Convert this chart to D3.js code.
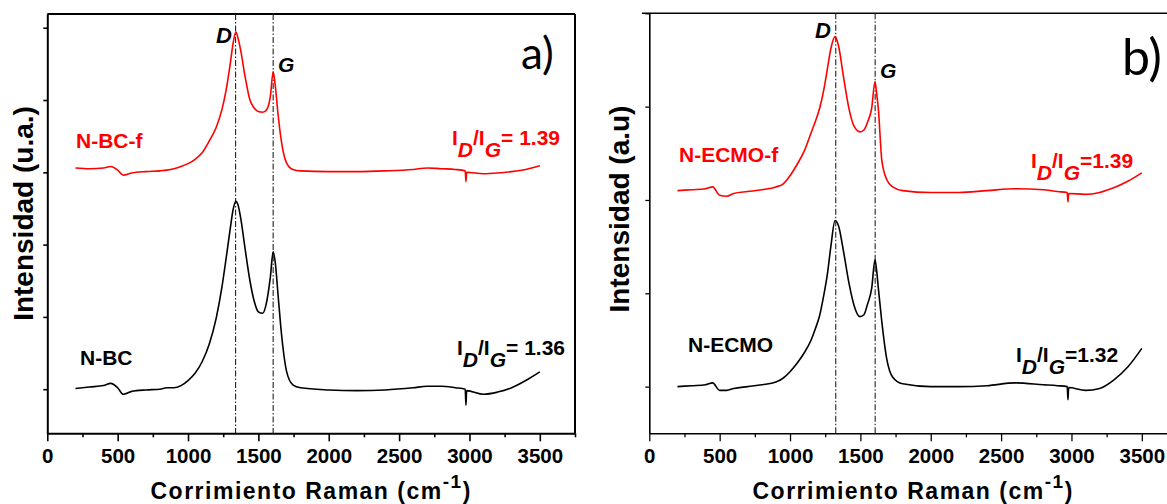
<!DOCTYPE html>
<html><head><meta charset="utf-8">
<script src="https://cdn.jsdelivr.net/npm/d3@7"></script>
<style>body{margin:0;background:#fff}svg{display:block}text{font-family:"Liberation Sans",Arial,sans-serif}</style>
</head><body>
<svg id="c" width="1167" height="504"></svg>
<script>
// ---------- data ----------
const xTickValues = [0, 500, 1000, 1500, 2000, 2500, 3000, 3500];
const xMinorValues = [250, 750, 1250, 1750, 2250, 2750, 3250, 3750];
const yTicksA = [0, 1, 2, 3, 4, 5];
const yTicksB = [0, 1, 2, 3, 4];

const waveA = [200,300,400,450,500,540,600,700,800,850,900,950,1000,1050,1100,1150,1200,1240,1270,1300,1320,1340,1355,1375,1405,1440,1470,1500,1530,1560,1585,1605,1620,1640,1665,1700,1745,1800,2000,2200,2400,2600,2700,2800,2900,2970,2975,2980,3100,3200,3300,3400,3500];
const nbcF = [3.06,3.05,3.06,3.08,3.03,2.96,2.99,3.01,3.02,3.03,3.05,3.08,3.12,3.18,3.27,3.43,3.62,3.86,4.13,4.50,4.78,4.94,4.86,4.68,4.33,4.00,3.89,3.84,3.83,3.87,4.05,4.39,4.20,3.80,3.41,3.13,3.04,3.02,3.01,3.01,3.02,3.04,3.06,3.05,3.04,3.02,2.87,3.00,2.98,2.99,3.01,3.04,3.09];
const nbc = [0.01,0.03,0.05,0.08,0.02,-0.07,-0.03,-0.01,0.00,0.02,0.02,0.05,0.12,0.22,0.38,0.62,0.98,1.40,1.80,2.22,2.48,2.60,2.55,2.36,1.95,1.50,1.22,1.07,1.05,1.22,1.55,1.90,1.75,1.30,0.75,0.25,0.06,0.02,-0.01,-0.02,-0.01,0.02,0.04,0.04,0.02,0.00,-0.22,-0.02,-0.07,-0.04,0.02,0.12,0.24];

const waveB = [200,300,400,450,500,550,600,700,800,900,950,1000,1050,1100,1150,1180,1210,1240,1265,1290,1320,1345,1380,1420,1455,1497,1525,1550,1580,1604,1615,1628,1652,1687,1730,1800,2000,2200,2400,2600,2800,2900,2970,2975,2980,3100,3200,3300,3400,3500];
const necmoF = [2.10,2.11,2.12,2.14,2.05,2.04,2.07,2.09,2.11,2.14,2.17,2.26,2.38,2.52,2.72,2.84,2.98,3.18,3.40,3.62,3.75,3.65,3.32,2.97,2.79,2.73,2.75,2.83,2.98,3.27,3.15,2.97,2.43,2.22,2.14,2.10,2.08,2.08,2.10,2.12,2.11,2.09,2.08,1.98,2.07,2.06,2.08,2.13,2.20,2.29];
const necmo = [0.00,0.01,0.02,0.04,-0.04,-0.04,-0.02,0.00,0.02,0.05,0.09,0.16,0.25,0.36,0.50,0.62,0.76,0.98,1.20,1.50,1.78,1.72,1.45,1.10,0.87,0.75,0.77,0.88,1.05,1.36,1.25,1.05,0.70,0.30,0.10,0.03,0.00,0.00,0.01,0.04,0.02,0.01,0.00,-0.14,-0.01,-0.04,-0.02,0.07,0.21,0.41];

const peakLinesA = [1338, 1605];
const peakLinesB = [1325, 1605];
const sampleNamesA = ["N-BC-f", "N-BC"];
const sampleNamesB = ["N-ECMO-f", "N-ECMO"];
const ratiosA = ["= 1.39", "= 1.36"];
const ratiosB = ["=1.39", "=1.32"];
const panelLetters = ["a)", "b)"];
const yTitles = ["Intensidad (u.a.)", "Intensidad (a.u)"];

// ---------- drawing ----------
const svg = d3.select("#c");

function drawPanel(o) {
  const g = svg.append("g");
  const x = d3.scaleLinear().domain([0, 3750]).range([o.x0, o.x1]);
  const y = d3.scaleLinear().domain(o.yDom).range([433.3, o.top]);
  const sw = o.sw;

  // box top/right
  g.append("line").attr("x1", o.topLineStart).attr("x2", Math.min(o.x1, 1167)).attr("y1", o.top).attr("y2", o.top)
    .attr("stroke", "#000").attr("stroke-width", sw);
  if (o.x1 < 1167) g.append("line").attr("x1", o.x1).attr("x2", o.x1).attr("y1", o.top).attr("y2", 433.3)
    .attr("stroke", "#000").attr("stroke-width", sw);

  // peak lines
  o.peaks.forEach(p => g.append("line").attr("x1", x(p)).attr("x2", x(p)).attr("y1", o.top).attr("y2", 433.3)
    .attr("stroke", "#222").attr("stroke-width", 1.1).attr("stroke-dasharray", "6,2,1.5,2"));

  // curves
  const line = d3.line().x(d => x(d[0])).y(d => y(d[1])).curve(d3.curveMonotoneX);
  g.append("path").datum(o.wave.map((w, i) => [w, o.s2[i]])).attr("d", line)
    .attr("fill", "none").attr("stroke", "#000").attr("stroke-width", 1.6);
  g.append("path").datum(o.wave.map((w, i) => [w, o.s1[i]])).attr("d", line)
    .attr("fill", "none").attr("stroke", "#ff0000").attr("stroke-width", 1.6);

  // x axis
  const xa = g.append("g").attr("transform", "translate(0,433.3)")
    .call(d3.axisBottom(x).tickValues(xTickValues).tickFormat(d3.format("d")).tickSize(8).tickPadding(7).tickSizeOuter(0));
  xa.select(".domain").attr("stroke-width", sw);
  xa.selectAll(".tick line").attr("stroke-width", sw * 0.8);
  xa.selectAll("text").attr("font-size", 20.5).attr("font-weight", "bold")
    .attr("font-family", '"Liberation Sans",Arial,sans-serif').attr("fill", "#000");
  const xm = g.append("g").attr("transform", "translate(0,433.3)")
    .call(d3.axisBottom(x).tickValues(xMinorValues).tickSize(4).tickFormat(""));
  xm.select(".domain").remove();
  xm.selectAll(".tick line").attr("stroke-width", sw * 0.8);

  // y axis
  const ya = g.append("g").attr("transform", `translate(${o.x0},0)`)
    .call(d3.axisLeft(y).tickValues(o.yTicks).tickSize(4).tickFormat("").tickSizeOuter(0));
  ya.select(".domain").attr("stroke-width", sw);
  ya.selectAll(".tick line").attr("stroke-width", sw * 0.8);

  // axis titles
  const xt = g.append("text").attr("x", (o.x0 + o.x1) / 2).attr("y", 499).attr("text-anchor", "middle")
    .attr("font-size", 23).attr("font-weight", "bold").attr("letter-spacing", 1.5);
  xt.append("tspan").text("Corrimiento Raman (cm");
  xt.append("tspan").attr("dy", -11).attr("font-size", 19).text("-1");
  xt.append("tspan").attr("dy", 11).text(")");

  g.append("text").attr("transform", `translate(${o.yTitleX},${o.yTitleY}) rotate(-90)`)
    .attr("text-anchor", "middle").attr("font-size", 28).attr("font-weight", "bold").text(o.yTitle);

  // D / G labels
  g.append("text").attr("x", o.dLab[0]).attr("y", o.dLab[1]).attr("font-size", 22).attr("font-weight", "bold")
    .attr("font-style", "italic").text("D");
  g.append("text").attr("x", o.gLab[0]).attr("y", o.gLab[1]).attr("font-size", 21).attr("font-weight", "bold")
    .attr("font-style", "italic").text("G");

  // panel letter
  g.append("text").attr("x", o.letter[0]).attr("y", o.letter[1]).attr("font-size", o.letter[2])
    .style("font-family", "Lato, 'Open Sans', sans-serif").text(o.letterText);

  // sample names
  o.names.forEach((n, i) => {
    g.append("text").attr("x", o.namePos[i][0]).attr("y", o.namePos[i][1]).attr("font-size", 21)
      .attr("font-weight", "bold").attr("fill", i === 0 ? "#ff0000" : "#000").text(n);
  });

  // ratios
  o.ratios.forEach((r, i) => {
    const t = g.append("text").attr("x", o.ratioPos[i][0]).attr("y", o.ratioPos[i][1]).attr("font-size", 21)
      .attr("font-weight", "bold").attr("fill", i === 0 ? "#ff0000" : "#000");
    t.append("tspan").text("I");
    t.append("tspan").attr("dy", 12).attr("font-style", "italic").text("D");
    t.append("tspan").attr("dy", -12).text("/I");
    t.append("tspan").attr("dy", 12).attr("font-style", "italic").text("G");
    t.append("tspan").attr("dy", -12).text(r);
  });
}

drawPanel({
  x0: 47.3, x1: 575, top: 14, yDom: [-0.61, 5.19], yTicks: yTicksA, sw: 2, topLineStart: 47.3,
  wave: waveA, s1: nbcF, s2: nbc, peaks: peakLinesA,
  yTitle: yTitles[0], yTitleX: 33, yTitleY: 213.5,
  dLab: [216, 43], gLab: [278, 71.5],
  letter: [521, 69, 44], letterText: panelLetters[0],
  names: sampleNamesA, namePos: [[76, 148], [80, 365]],
  ratios: ratiosA, ratioPos: [[452, 145], [457, 355]]
});

drawPanel({
  x0: 649.3, x1: 1177, top: 13.3, yDom: [-0.5, 4], yTicks: yTicksB, sw: 1.6, topLineStart: 642,
  wave: waveB, s1: necmoF, s2: necmo, peaks: peakLinesB,
  yTitle: yTitles[1], yTitleX: 629, yTitleY: 209,
  dLab: [815, 38.3], gLab: [880, 78],
  letter: [1122, 75, 50], letterText: panelLetters[1],
  names: sampleNamesB, namePos: [[679, 161.7], [688, 351.7]],
  ratios: ratiosB, ratioPos: [[1031, 168], [1016, 362]]
});
</script>
</body></html>
